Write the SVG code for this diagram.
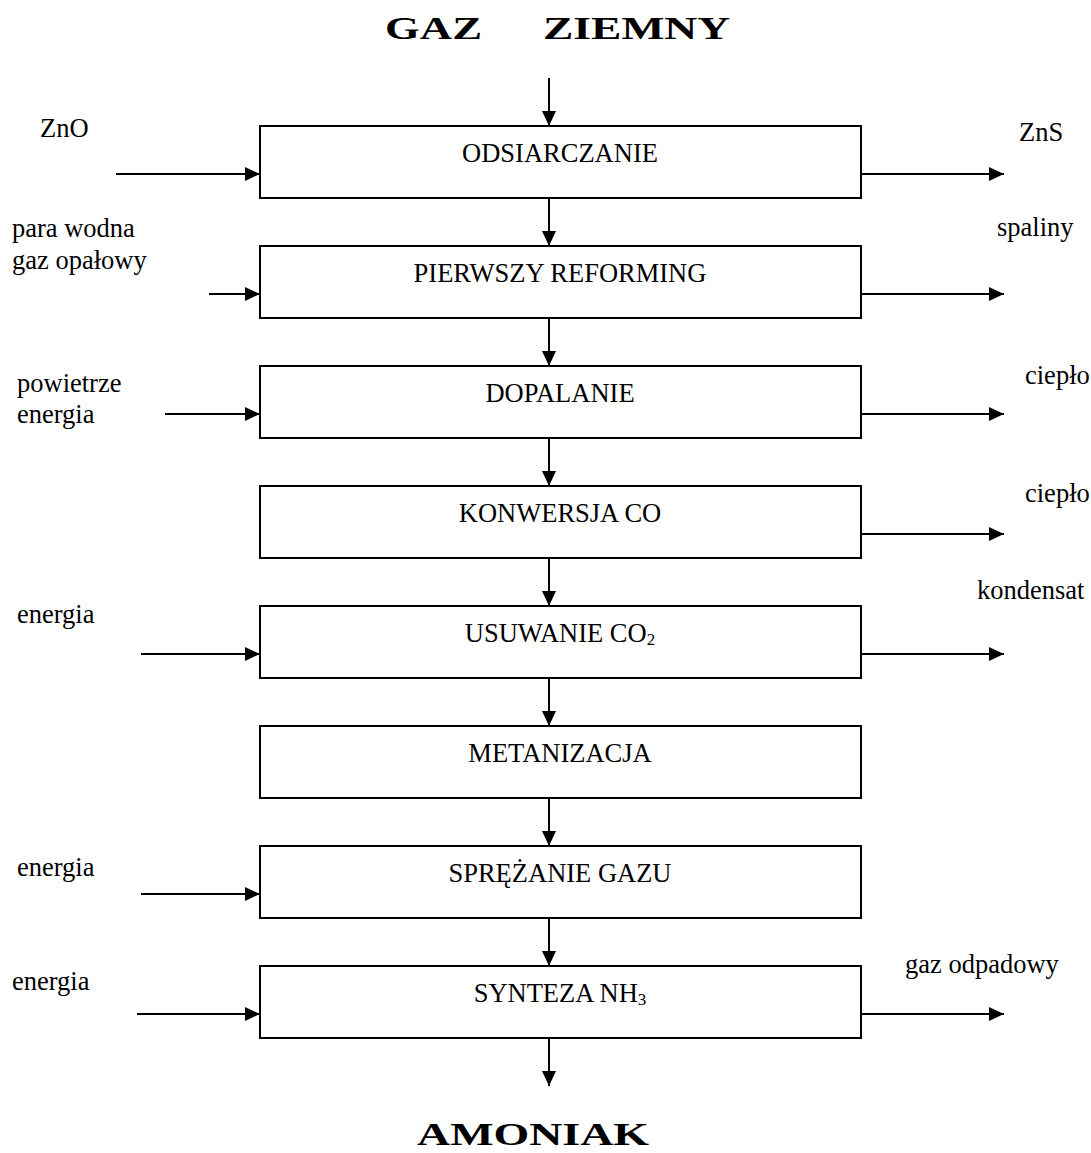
<svg xmlns="http://www.w3.org/2000/svg" width="1091" height="1153" viewBox="0 0 1091 1153">
<style>
text{font-family:"Liberation Serif","Times New Roman",serif;fill:#000}
.lbl{font-size:26.5px}
.box text{font-size:26.5px;text-anchor:middle}
.title{font-size:32px;font-weight:bold}
.box rect{fill:#fff;stroke:#000;stroke-width:2}
.conn line{stroke:#000;stroke-width:2;marker-end:url(#ah)}
.sub{font-size:17px}
</style>
<defs>
<marker id="ah" markerUnits="userSpaceOnUse" markerWidth="15" markerHeight="14" refX="15" refY="7" orient="auto">
<path d="M0,0 L15,7 L0,14 z" fill="#000"/>
</marker>
</defs>
<rect width="1091" height="1153" fill="#fff"/>
<text class="title" x="385" y="39" textLength="97" lengthAdjust="spacingAndGlyphs">GAZ</text>
<text class="title" x="543" y="39" textLength="187" lengthAdjust="spacingAndGlyphs">ZIEMNY</text>
<text class="title" x="417" y="1145" textLength="232" lengthAdjust="spacingAndGlyphs">AMONIAK</text>

<g id="n1" class="box"><rect x="260" y="126" width="601" height="72"/><text x="560" y="162">ODSIARCZANIE</text></g>
<g id="n2" class="box"><rect x="260" y="246" width="601" height="72"/><text x="560" y="282">PIERWSZY REFORMING</text></g>
<g id="n3" class="box"><rect x="260" y="366" width="601" height="72"/><text x="560" y="402">DOPALANIE</text></g>
<g id="n4" class="box"><rect x="260" y="486" width="601" height="72"/><text x="560" y="522">KONWERSJA CO</text></g>
<g id="n5" class="box"><rect x="260" y="606" width="601" height="72"/><text x="560" y="642">USUWANIE CO<tspan class="sub" dy="3">2</tspan></text></g>
<g id="n6" class="box"><rect x="260" y="726" width="601" height="72"/><text x="560" y="762">METANIZACJA</text></g>
<g id="n7" class="box"><rect x="260" y="846" width="601" height="72"/><text x="560" y="882">SPRĘŻANIE GAZU</text></g>
<g id="n8" class="box"><rect x="260" y="966" width="601" height="72"/><text x="560" y="1002">SYNTEZA NH<tspan class="sub" dy="3">3</tspan></text></g>

<g id="labels" class="lbl">
<text class="lbl" x="40" y="137">ZnO</text>
<text class="lbl" x="1019" y="141">ZnS</text>
<text class="lbl" x="12" y="237">para wodna</text>
<text class="lbl" x="12" y="269">gaz opałowy</text>
<text class="lbl" x="997" y="236">spaliny</text>
<text class="lbl" x="17" y="392">powietrze</text>
<text class="lbl" x="17" y="423">energia</text>
<text class="lbl" x="1025" y="384">ciepło</text>
<text class="lbl" x="1025" y="502">ciepło</text>
<text class="lbl" x="977" y="599">kondensat</text>
<text class="lbl" x="17" y="623">energia</text>
<text class="lbl" x="17" y="876">energia</text>
<text class="lbl" x="12" y="990">energia</text>
<text class="lbl" x="905" y="973">gaz odpadowy</text>
</g>

<g id="connectors" class="conn">
<line x1="549" y1="78" x2="549" y2="126"/>
<line x1="549" y1="198" x2="549" y2="246"/>
<line x1="549" y1="318" x2="549" y2="366"/>
<line x1="549" y1="438" x2="549" y2="486"/>
<line x1="549" y1="558" x2="549" y2="606"/>
<line x1="549" y1="678" x2="549" y2="726"/>
<line x1="549" y1="798" x2="549" y2="846"/>
<line x1="549" y1="918" x2="549" y2="966"/>
<line x1="549" y1="1038" x2="549" y2="1086"/>
<line x1="116" y1="174" x2="260" y2="174"/>
<line x1="209" y1="294" x2="260" y2="294"/>
<line x1="165" y1="414" x2="260" y2="414"/>
<line x1="141" y1="654" x2="260" y2="654"/>
<line x1="141" y1="894" x2="260" y2="894"/>
<line x1="137" y1="1014" x2="260" y2="1014"/>
<line x1="861" y1="174" x2="1004" y2="174"/>
<line x1="861" y1="294" x2="1004" y2="294"/>
<line x1="861" y1="414" x2="1004" y2="414"/>
<line x1="861" y1="534" x2="1004" y2="534"/>
<line x1="861" y1="654" x2="1004" y2="654"/>
<line x1="861" y1="1014" x2="1004" y2="1014"/>
</g>
</svg>
